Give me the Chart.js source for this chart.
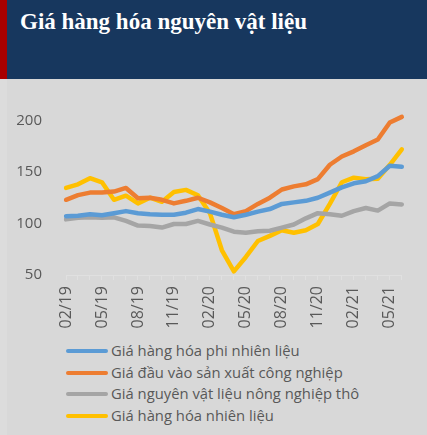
<!DOCTYPE html>
<html lang="vi">
<head>
    <meta charset="UTF-8">
    <title>Giá hàng hóa nguyên vật liệu</title>
    <script src="https://cdn.jsdelivr.net/npm/chart.js"></script>
    <style>
        html, body {
            margin: 0;
            padding: 0;
            width: 427px;
            height: 435px;
            overflow: hidden;
            background: #d8d8d8;
        }
        .header {
            position: absolute;
            left: 0; top: 0;
            width: 427px; height: 79px;
            background: #17375e;
            border-left: 7px solid #a80000;
            box-sizing: border-box;
        }
        .header h1 {
            margin: 0;
            position: absolute;
            left: 13px; top: 9px;
            color: #fff;
            font-family: "Liberation Serif", serif;
            font-weight: bold;
            font-size: 23px;
        }
        .leftstrip {
            position: absolute;
            left: 0; top: 79px;
            width: 7px; height: 356px;
            background: #dcdcdc;
        }
        .chart-box {
            position: absolute;
            left: 0; top: 80px;
            width: 427px; height: 255px;
        }
        #legend {
            position: absolute;
            left: 66px; top: 340px;
            font-family: "Open Sans", sans-serif;
            font-size: 14.8px;
            color: #595959;
        }
        #legend div {
            height: 21.7px;
            line-height: 21.7px;
            white-space: nowrap;
        }
        #legend span {
            display: inline-block;
            width: 42px; height: 4px;
            border-radius: 2px;
            vertical-align: middle;
            margin-right: 3px;
            position: relative; top: -1px;
        }
    </style>
</head>
<body>
    <div class="header"><h1>Giá hàng hóa nguyên vật liệu</h1></div>
    <div class="leftstrip"></div>
    <div class="chart-box"><canvas id="priceChart"></canvas></div>
    <div id="legend"></div>

    <script>
        // Tháng 02/19 - 06/21
        const months = ['02/19','03/19','04/19','05/19','06/19','07/19','08/19','09/19','10/19','11/19','12/19',
            '01/20','02/20','03/20','04/20','05/20','06/20','07/20','08/20','09/20','10/20','11/20','12/20',
            '01/21','02/21','03/21','04/21','05/21','06/21'];
        const yTicks = [50, 100, 150, 200];

        const phiNhienLieu = [107,107.5,109,108,110,112,110,109,108.5,108.5,110.5,114,111.5,108.5,106,108.5,
            111.5,114,119,120.5,122,125,130,135,139,141,146,156,155];
        const dauVaoCongNghiep = [123,127.5,130,130,131,134.5,124.5,125,123,119.5,122,125,120.5,115,109,112,
            119,125,133,136,138,143,157,165,170,176,181.5,198,203.5];
        const nongNghiepTho = [104,105.5,106,105.5,106,102.5,98,97.5,96,99.5,99.5,102.5,99,96,92,91,
            92.5,93,96,99,105,110,109,107.5,112,115,112.5,119.5,118.5];
        const nhienLieu = [134.5,138,144,140,123,127,119.5,125,121,130.5,132.6,127.4,110,74,53.5,67.5,
            83,88,93.5,91,93.5,99.5,119,140,144.5,143,143.5,157,172];

        const seriesNames = ['Giá hàng hóa phi nhiên liệu', 'Giá đầu vào sản xuất công nghiệp',
            'Giá nguyên vật liệu nông nghiệp thô', 'Giá hàng hóa nhiên liệu'];
        const seriesColors = ['#5b9bd5', '#ed7d31', '#a5a5a5', '#ffc000'];
        const seriesData = [phiNhienLieu, dauVaoCongNghiep, nongNghiepTho, nhienLieu];

        const ctx = document.getElementById('priceChart').getContext('2d');
        new Chart(ctx, {
            type: 'line',
            data: {
                labels: months,
                datasets: seriesData.map((d, i) => ({
                    label: seriesNames[i],
                    data: d,
                    borderColor: seriesColors[i],
                    backgroundColor: seriesColors[i],
                    borderWidth: 4.5,
                    pointRadius: 0,
                    tension: 0,
                    fill: false,
                    borderJoinStyle: 'round',
                    borderCapStyle: 'round'
                }))
            },
            options: {
                responsive: true,
                maintainAspectRatio: false,
                animation: false,
                layout: { padding: { left: 0, right: 23, top: 20, bottom: 0 } },
                plugins: {
                    legend: { display: false },
                    tooltip: { enabled: false }
                },
                scales: {
                    x: {
                        offset: false,
                        grid: {
                            display: true,
                            drawOnChartArea: false,
                            color: '#e0e0e0',
                            tickLength: 5
                        },
                        border: { color: '#e0e0e0' },
                        afterFit: (s) => { s.height = 60; },
                        ticks: {
                            autoSkip: false,
                            minRotation: 90,
                            maxRotation: 90,
                            color: '#595959',
                            font: { family: 'Open Sans', size: 16 },
                            padding: 6,
                            callback: function (v, i) { return i % 3 === 0 ? months[i] : ''; }
                        }
                    },
                    y: {
                        min: 50,
                        max: 215,
                        grid: { display: false },
                        border: { display: false },
                        afterFit: (s) => { s.width = 66; },
                        afterBuildTicks: (s) => { s.ticks = yTicks.map(v => ({ value: v })); },
                        ticks: {
                            color: '#595959',
                            font: { family: 'Open Sans', size: 15 },
                            padding: 16
                        }
                    }
                }
            }
        });

        // chú thích
        const legend = document.getElementById('legend');
        seriesNames.forEach((name, i) => {
            const row = document.createElement('div');
            row.innerHTML = '<span style="background:' + seriesColors[i] + '"></span>' + name;
            legend.appendChild(row);
        });
    </script>
</body>
</html>
